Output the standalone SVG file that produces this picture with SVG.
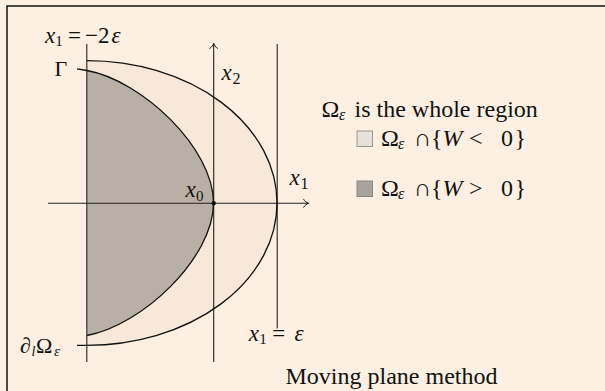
<svg xmlns="http://www.w3.org/2000/svg" width="605" height="391" viewBox="0 0 605 391">
<style>
.t{font-family:"Liberation Serif","Times New Roman",serif;fill:#111}
.i{font-style:italic}
.ln{stroke:#222;stroke-width:1.1;fill:none}
.cv{stroke:#111;stroke-width:1.3;fill:none}
</style>
<defs>
<marker id="arr" markerUnits="userSpaceOnUse" markerWidth="12" markerHeight="12" viewBox="-6 -6 12 12" refX="0" refY="0" orient="auto">
<path d="M-5,-4.2 C-3.8,-2 -1.6,-0.5 0,0 C-1.6,0.5 -3.8,2 -5,4.2" stroke="#111" stroke-width="1" fill="none"/>
</marker>
</defs>
<rect width="605" height="391" fill="#FDF0E2"/>
<rect x="7" y="6" width="700" height="500" fill="none" stroke="#111" stroke-width="1.5"/>
<g id="regions">
<path id="outer-region" d="M87,60.7 A190,142.3 0 0 1 277,203 A190,142.3 0 0 1 87,345.3 Z" fill="#F7E8D9"/>
<path id="inner-region" d="M87,70.5 C142,80.5 213.5,148 213.5,203 C213.5,258 142,325.5 87,335.5 Z" fill="#B9B0A5"/>
</g>
<g id="connectors">
<line class="ln" x1="86.8" y1="44" x2="86.8" y2="362"/>
<line class="ln" x1="277.2" y1="44" x2="277.2" y2="328.5"/>
<line class="ln" x1="213.7" y1="362" x2="213.7" y2="43.5" marker-end="url(#arr)"/>
<line class="ln" x1="48" y1="203.3" x2="308.5" y2="203.3" marker-end="url(#arr)"/>
<path class="cv" d="M87,60.7 A190,142.3 0 0 1 277,203 A190,142.3 0 0 1 87,345.3 L77,345.3"/>
<path class="cv" d="M77,68.8 L87,70.5 C142,80.5 213.5,148 213.5,203 C213.5,258 142,325.5 87,335.5"/>
<circle cx="213.7" cy="203.3" r="2.2" fill="#111"/>
</g>
<g id="labels">
<text class="t" font-size="23" y="42.5"><tspan class="i" x="45">x</tspan><tspan x="55.3" y="45.5" font-size="15">1</tspan><tspan x="68" y="42.5">=</tspan><tspan x="85">−2</tspan><tspan class="i" x="111.5">ε</tspan></text>
<text class="t" font-size="23" y="341"><tspan class="i" x="248.8">x</tspan><tspan x="259.3" y="344" font-size="15">1</tspan><tspan x="272.3" y="341">=</tspan><tspan class="i" x="294.5">ε</tspan></text>
<text class="t" font-size="22" x="54.5" y="76">Γ</text>
<text class="t" font-size="23" y="80"><tspan class="i" x="221.5">x</tspan><tspan x="232.5" y="84" font-size="16">2</tspan></text>
<text class="t" font-size="23" y="185"><tspan class="i" x="289.5">x</tspan><tspan x="300.5" y="189" font-size="16">1</tspan></text>
<text class="t" font-size="23" y="197"><tspan class="i" x="185.5">x</tspan><tspan x="196" y="200.5" font-size="15">0</tspan></text>
<text class="t" font-size="22" y="352.5"><tspan class="i" x="20">∂</tspan><tspan class="i" x="31.5" y="356" font-size="14">l</tspan><tspan x="36" y="352.5">Ω</tspan><tspan class="i" x="54" y="356" font-size="15">ε</tspan></text>
<text class="t" font-size="24" x="285.5" y="384.3">Moving plane method</text>
</g>
<g id="legend">
<text class="t" font-size="24" y="116.7"><tspan x="321.5">Ω</tspan><tspan class="i" x="339" y="120" font-size="16">ε</tspan><tspan x="354.5" y="116.7">is the whole region</tspan></text>
<rect x="357" y="131" width="15.5" height="15.5" fill="#E7E0D8" stroke="#999490" stroke-width="1"/>
<text class="t" font-size="24" y="146"><tspan x="381">Ω</tspan><tspan class="i" x="398" y="149.3" font-size="16">ε</tspan><tspan x="414" y="146">∩</tspan><tspan x="431">{<tspan class="i">W</tspan></tspan><tspan x="469">&lt;</tspan><tspan x="501">0</tspan><tspan x="514.5">}</tspan></text>
<rect x="357" y="181" width="15.5" height="15.5" fill="#A9A39E" stroke="#8C8782" stroke-width="1"/>
<text class="t" font-size="24" y="195.5"><tspan x="381">Ω</tspan><tspan class="i" x="398" y="198.8" font-size="16">ε</tspan><tspan x="414" y="195.5">∩</tspan><tspan x="431">{<tspan class="i">W</tspan></tspan><tspan x="469">&gt;</tspan><tspan x="501">0</tspan><tspan x="514.5">}</tspan></text>
</g>
</svg>
